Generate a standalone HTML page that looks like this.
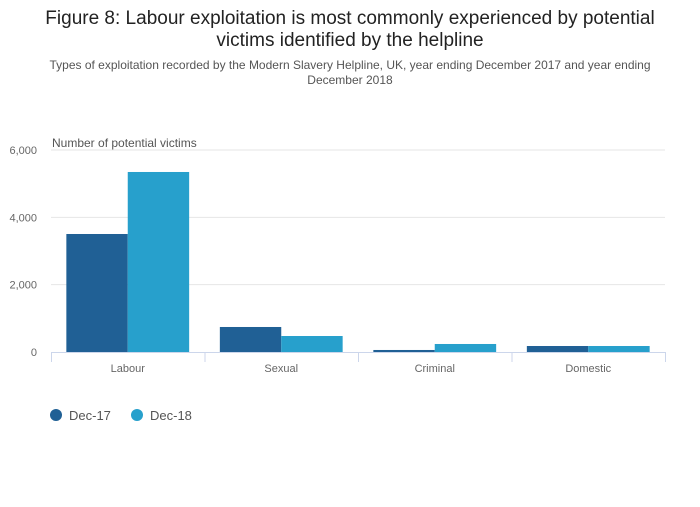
<!DOCTYPE html>
<html><head><meta charset="utf-8"><style>
body{margin:0;background:#fff;font-family:"Liberation Sans",sans-serif;}
svg text{font-family:"Liberation Sans",sans-serif;}
</style></head><body>
<svg width="700" height="502" id="c">
<text x="350" y="24" text-anchor="middle" font-size="19" fill="#222">Figure 8: Labour exploitation is most commonly experienced by potential</text>
<text x="350" y="46" text-anchor="middle" font-size="19" fill="#222">victims identified by the helpline</text>
<text x="350" y="69" text-anchor="middle" font-size="12" fill="#555">Types of exploitation recorded by the Modern Slavery Helpline, UK, year ending December 2017 and year ending</text>
<text x="350" y="84" text-anchor="middle" font-size="12" fill="#555">December 2018</text>
<text x="52" y="147" font-size="12" fill="#555">Number of potential victims</text>
<g id="grid"></g><g id="bars"></g><g id="axis"></g>
<g>
<g><circle cx="56" cy="415" r="6" fill="#206095"/><text x="69" y="420" font-size="13" fill="#555">Dec-17</text></g>
<g><circle cx="137" cy="415" r="6" fill="#27a0cc"/><text x="150" y="420" font-size="13" fill="#555">Dec-18</text></g>
</g>
</svg>
<script>
const categories=["Labour","Sexual","Criminal","Domestic"];
const dec17=[3505,743,60,178];
const dec18=[5347,475,238,178];
const yTicks=[0,2000,4000,6000];
const yTickLabels=["0","2,000","4,000","6,000"];
const NS="http://www.w3.org/2000/svg";
const x0=51,x1=665,yb=352,yt=150,ymax=6000;
const y=v=>yb-(v/ymax)*(yb-yt);
const bw=(x1-x0)/categories.length;
function mk(t,a,p){const e=document.createElementNS(NS,t);for(const k in a)e.setAttribute(k,a[k]);p.appendChild(e);return e;}
const grid=document.getElementById('grid'),bars=document.getElementById('bars'),axis=document.getElementById('axis');
yTicks.forEach((v,i)=>{
  if(v>0){const l=mk('line',{x1:x0,x2:x1,y1:y(v),y2:y(v),stroke:'#e6e6e6'},grid);
  
  }
  const t=mk('text',{x:37,y:y(v)+4,'text-anchor':'end','font-size':11,fill:'#666'},axis);t.textContent=yTickLabels[i];
  
  
});
const bl=mk('line',{x1:x0,x2:x1,y1:yb+0.5,y2:yb+0.5,stroke:'#ccd6eb'},axis);


categories.forEach((c,i)=>{
  const cx=x0+bw*i,pad=bw*0.1,w=(bw-2*pad)/2;
  [[dec17,'#206095','dec-17'],[dec18,'#27a0cc','dec-18']].forEach(([s,col,n],j)=>{
    const r=mk('rect',{x:cx+pad+j*w,y:y(s[i]),width:w,height:yb-y(s[i]),fill:col},bars);
    
    
  });
  const t=mk('text',{x:cx+bw/2,y:372,'text-anchor':'middle','font-size':11,fill:'#666'},axis);t.textContent=c;
  
  
});
for(let i=0;i<=categories.length;i++){const k=mk('line',{x1:x0+bw*i+0.5,x2:x0+bw*i+0.5,y1:yb,y2:yb+10,stroke:'#ccd6eb'},axis);
  
  }
</script>
</body></html>
